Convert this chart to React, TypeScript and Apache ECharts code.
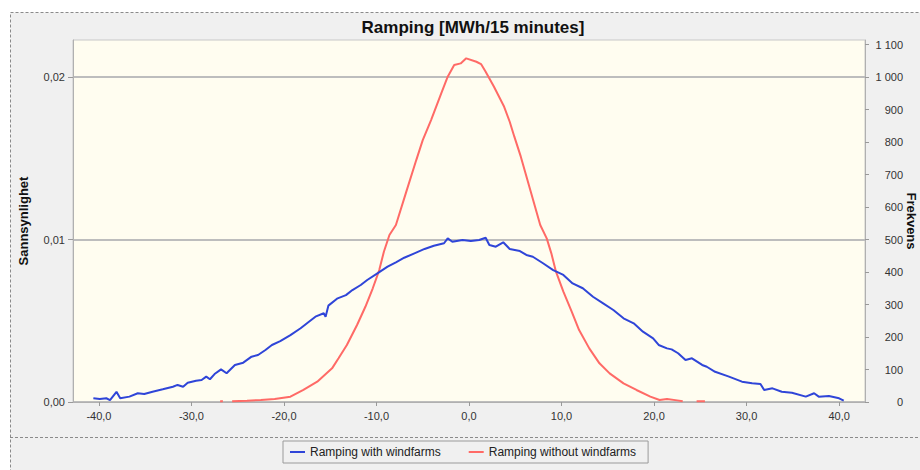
import React, { useEffect, useRef } from "react";
import * as echarts from "echarts";

const titleText = "Ramping [MWh/15 minutes]";
const leftAxisName = "Sannsynlighet";
const rightAxisName = "Frekvens";
const seriesNames = ["Ramping with windfarms", "Ramping without windfarms"];

const xTicks = [-40, -30, -20, -10, 0, 10, 20, 30, 40];
const leftTicks = [0, 0.01, 0.02];
const rightTicks = [0, 100, 200, 300, 400, 500, 600, 700, 800, 900, 1000, 1100];

const blueX = [
  -40.6, -39.9, -39.2, -38.8, -38.1, -37.7, -36.7, -35.8, -35.1, -34.2, -33.1, -32.0, -31.5, -30.9, -30.4,
  -29.5, -28.9, -28.4, -28.0, -27.5, -26.8, -26.2, -25.3, -24.4, -23.5, -22.8, -22.0, -21.3, -20.4, -19.3,
  -18.2, -17.3, -16.6, -15.7, -15.5, -15.2, -14.2, -13.3, -12.6, -11.7, -11.0, -9.9, -8.8, -7.9, -7.0,
  -5.9, -4.8, -3.8, -2.7, -2.3, -1.8, -0.7, 0.2, 1.1, 1.8, 2.2, 2.9, 3.7, 4.4, 5.5, 6.2, 6.9, 8.0, 9.1,
  10.2, 11.2, 12.3, 13.4, 14.5, 15.6, 16.7, 17.8, 18.8, 19.9, 20.5, 21.4, 21.9, 22.6, 23.4, 24.1, 25.2,
  25.7, 26.6, 28.1, 29.5, 30.6, 31.5, 31.9, 32.8, 33.8, 34.9, 36.4, 37.3, 37.8, 38.9, 40.0, 40.5,
];
const blueY = [
  0.00023, 0.00018, 0.00023, 0.00012, 0.00063, 0.00023, 0.00033, 0.00054, 0.00049, 0.00063, 0.00078, 0.00094,
  0.00105, 0.00094, 0.00119, 0.00131, 0.00135, 0.00156, 0.0014, 0.00172, 0.00201, 0.00177, 0.00228, 0.00242,
  0.00279, 0.00289, 0.0032, 0.00351, 0.00375, 0.00412, 0.00454, 0.00494, 0.00525, 0.00546, 0.00525, 0.00593,
  0.00638, 0.00658, 0.00689, 0.0072, 0.00751, 0.00792, 0.00833, 0.0086, 0.00888, 0.00915, 0.00942, 0.00962,
  0.00977, 0.01007, 0.00986, 0.00997, 0.00991, 0.00997, 0.01011, 0.00966, 0.00956, 0.00983, 0.00942, 0.00929,
  0.00905, 0.00894, 0.00854, 0.00812, 0.00782, 0.0073, 0.007, 0.00648, 0.00607, 0.00566, 0.00515, 0.00484,
  0.00433, 0.00392, 0.00351, 0.0033, 0.00324, 0.003, 0.00258, 0.00269, 0.00228, 0.00217, 0.00186, 0.00156,
  0.00125, 0.00115, 0.00111, 0.00074, 0.00084, 0.00063, 0.00057, 0.00033, 0.00054, 0.00033, 0.00037, 0.00023,
  0.00008,
];

const redX = [
  -26.9, -26.6, -26.3, -25.6, -24.0, -22.5, -21.0, -19.3, -17.9, -16.4, -14.8, -14.1, -13.2, -12.1, -11.2,
  -10.4, -9.7, -9.2, -8.6, -7.9, -6.8, -5.7, -5.0, -4.1, -3.0, -2.3, -1.6, -0.9, -0.3, 0.8, 1.3, 1.8, 2.7,
  3.8, 4.4, 4.9, 5.6, 6.6, 7.7, 8.4, 8.9, 9.4, 10.2, 11.1, 11.9, 13.0, 14.1, 15.2, 16.7, 18.1, 19.6, 20.6,
  21.4, 22.5, 23.1, 23.6, 24.2, 24.6, 25.5,
];
const redY = [
  0.00005, 0.00004, null, 0.00005, 0.00008, 0.00012, 0.00018, 0.00033, 0.00074, 0.00125, 0.00207, 0.00269,
  0.00351, 0.00474, 0.00586, 0.007, 0.00812, 0.00925, 0.01028, 0.01089, 0.0129, 0.01489, 0.01612, 0.01735,
  0.019, 0.02002, 0.02074, 0.02084, 0.02115, 0.02094, 0.0208, 0.02033, 0.0194, 0.01817, 0.01725, 0.01633,
  0.0151, 0.0131, 0.01089, 0.01007, 0.00915, 0.00802, 0.00679, 0.00556, 0.00443, 0.0033, 0.00238, 0.00176,
  0.00115, 0.00074, 0.00033, 0.00012, 0.00018, 0.0001, 0.00005, null, null, 0.00005, 0.00005,
];

const fmtComma = (v: number, d: number) => v.toFixed(d).replace(".", ",");
const fmtThousands = (v: number) =>
  v >= 1000 ? `${Math.floor(v / 1000)} ${String(v % 1000).padStart(3, "0")}` : String(v);

export default function App() {
  const ref = useRef<HTMLDivElement>(null);
  useEffect(() => {
    if (!ref.current) return;
    const chart = echarts.init(ref.current, undefined, { renderer: "svg" });
    const font = "'Liberation Sans', Arial, sans-serif";
    const blueData = blueX.map((x, i) => [x, blueY[i]]);
    const redData = redX.map((x, i) => [x, redY[i] === null ? null : redY[i]]);
    chart.setOption({
      animation: false,
      backgroundColor: "#ffffff",
      textStyle: { fontFamily: font },
      graphic: [
        {
          type: "rect",
          z: -100,
          silent: true,
          shape: { x: 10.5, y: 12.5, width: 920, height: 470 },
          style: { fill: "#f0f0f0", stroke: "#8a8a8a", lineWidth: 1, lineDash: [3, 2] },
        },
        {
          type: "line",
          z: -99,
          silent: true,
          shape: { x1: 10, y1: 437.5, x2: 920, y2: 437.5 },
          style: { stroke: "#8a8a8a", lineWidth: 1, lineDash: [3, 2] },
        },
      ],
      title: {
        text: titleText,
        left: 468,
        textAlign: "center",
        top: 14,
        textStyle: { fontFamily: font, fontSize: 17, fontWeight: "bold", color: "#111" },
      },
      legend: {
        left: 283,
        top: 441,
        padding: [5, 12, 5, 7],
        itemGap: 28,
        itemWidth: 15,
        itemHeight: 2,
        icon: "rect",
        borderColor: "#9a9a9a",
        borderWidth: 1,
        backgroundColor: "#f0f0f0",
        textStyle: { fontFamily: font, fontSize: 12, color: "#222", padding: [0, 0, 0, 0] },
        data: seriesNames,
      },
      grid: {
        left: 73,
        right: 55,
        top: 40,
        bottom: 68,
        outerBoundsMode: "none",
        containLabel: false,
        show: true,
        backgroundColor: "#fffdf0",
        borderColor: "#c8c8c8",
        borderWidth: 1,
      },
      xAxis: {
        type: "value",
        min: -42.8,
        max: 42.8,
        axisLine: { show: true, onZero: false, lineStyle: { color: "#b0b0b0" } },
        axisTick: { show: true, length: 4, customValues: xTicks, lineStyle: { color: "#999" } },
        axisLabel: {
          customValues: xTicks,
          margin: 8,
          fontSize: 11,
          color: "#333",
          fontFamily: font,
          formatter: (v: number) => fmtComma(v, 1),
        },
        splitLine: { show: false },
      },
      yAxis: [
        {
          type: "value",
          min: 0,
          max: 0.02228,
          interval: 0.01,
          name: leftAxisName,
          nameLocation: "middle",
          nameGap: 43,
          nameRotate: 90,
          nameMoveOverlap: false,
          nameTextStyle: { fontFamily: font, fontSize: 13, fontWeight: "bold", color: "#111" },
          axisLine: { show: true, onZero: false, lineStyle: { color: "#b0b0b0" } },
          axisTick: { show: true, length: 5, customValues: leftTicks, lineStyle: { color: "#999" } },
          axisLabel: {
            customValues: leftTicks,
            margin: 8,
            fontSize: 11,
            color: "#333",
            fontFamily: font,
            formatter: (v: number) => fmtComma(v, 2),
          },
          splitLine: { show: true, lineStyle: { color: "#bdbdbd", width: 2 } },
        },
        {
          type: "value",
          min: 0,
          max: 1114,
          position: "right",
          name: rightAxisName,
          nameLocation: "middle",
          nameGap: 40,
          nameRotate: -90,
          nameMoveOverlap: false,
          nameTextStyle: { fontFamily: font, fontSize: 13, fontWeight: "bold", color: "#111" },
          axisLine: { show: true, onZero: false, lineStyle: { color: "#b0b0b0" } },
          axisTick: { show: true, length: 4, customValues: rightTicks, lineStyle: { color: "#999" } },
          axisLabel: {
            customValues: rightTicks,
            margin: 38,
            align: "right",
            fontSize: 11,
            color: "#333",
            fontFamily: font,
            formatter: (v: number) => fmtThousands(v),
          },
          splitLine: { show: false },
        },
      ],
      series: [
        {
          name: seriesNames[0],
          type: "line",
          yAxisIndex: 0,
          data: blueData,
          showSymbol: false,
          symbol: "none",
          lineStyle: { color: "#2f45d8", width: 2 },
          itemStyle: { color: "#2f45d8" },
          z: 3,
        },
        {
          name: seriesNames[1],
          type: "line",
          yAxisIndex: 0,
          data: redData,
          connectNulls: false,
          showSymbol: false,
          symbol: "none",
          lineStyle: { color: "#ff6a66", width: 2 },
          itemStyle: { color: "#ff6a66" },
          z: 2,
        },
      ],
    });
    return () => chart.dispose();
  }, []);
  return (
    <div
      ref={ref}
      style={{ position: "absolute", left: 0, top: 0, width: 920, height: 470 }}
    />
  );
}
